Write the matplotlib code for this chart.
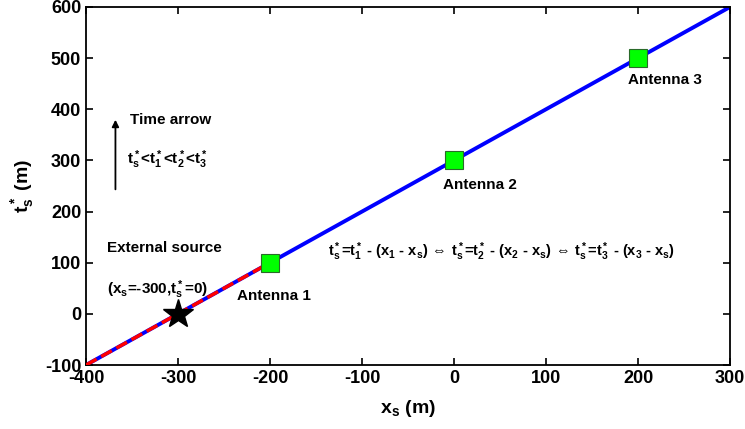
import matplotlib
matplotlib.use("Agg")
import matplotlib.pyplot as plt

plt.rcParams["font.family"] = "Liberation Sans"
plt.rcParams["font.weight"] = "bold"
plt.rcParams["axes.unicode_minus"] = False
plt.rcParams["mathtext.fontset"] = "custom"
plt.rcParams["mathtext.rm"] = "Liberation Sans:bold"
plt.rcParams["mathtext.bf"] = "Liberation Sans:bold"
plt.rcParams["mathtext.it"] = "Liberation Sans:bold"
plt.rcParams["mathtext.default"] = "bf"

# light cone line and source path
cone_x = [-400, 300]
cone_t = [-100, 600]
src_x = [-400, -200]
src_t = [-100, 100]

# antennas
ant_x = [-200, 0, 200]
ant_t = [100, 300, 500]
ant_names = ["Antenna 1", "Antenna 2", "Antenna 3"]
ant_label_pos = [(-236, 34), (-12, 252), (189, 457)]

source_x, source_t = -300, 0

fig = plt.figure(figsize=(7.45, 4.29), dpi=100)
ax = fig.add_axes([86 / 745, 1 - 365 / 429, (730 - 86) / 745, (365 - 7) / 429])

ax.plot(cone_x, cone_t, color="blue", lw=2.8, zorder=2)
ax.plot(src_x, src_t, color="red", lw=2.5, ls=(0, (3.5, 1.5)), zorder=3)
ax.plot(ant_x, ant_t, ls="none", marker="s", ms=13, mfc="#00ff00",
        mec="#2a6a2a", mew=0.8, zorder=4)
ax.plot([source_x], [source_t], ls="none", marker="*", ms=22, color="black", zorder=5)

for name, (tx, ty) in zip(ant_names, ant_label_pos):
    ax.text(tx, ty, name, fontsize=11, fontweight="bold", ha="left", va="center")

ax.annotate("", xy=(-368, 385), xytext=(-368, 238),
            arrowprops=dict(arrowstyle="-|>", color="black", lw=1.3, mutation_scale=10))
ax.text(-352, 380, "Time arrow", fontsize=11, fontweight="bold", va="center")
ax.text(-355, 302, r"$t^*_s$<$t^*_1$<$t^*_2$<$t^*_3$", fontsize=11, va="center")
ax.text(-377, 128, "External source", fontsize=11, fontweight="bold", va="center")
ax.text(-377, 48, r"(x$_s$=-300,t$^*_s$=0)", fontsize=11, va="center")
ax.text(-137, 122,
        r"$t^*_s$=$t^*_1$ - (x$_1$ - x$_s$)$\,\Leftrightarrow\,$$t^*_s$=$t^*_2$ - (x$_2$ - x$_s$)"
        r"$\,\Leftrightarrow\,$$t^*_s$=$t^*_3$ - (x$_3$ - x$_s$)",
        fontsize=10.5, va="center")

ax.set_xlim(-400, 300)
ax.set_ylim(-100, 600)
ax.set_xticks(range(-400, 301, 100))
ax.set_yticks(range(-100, 601, 100))
ax.tick_params(direction="in", top=True, right=True, labelsize=13, length=5, width=1.2)
for lbl in ax.get_xticklabels() + ax.get_yticklabels():
    lbl.set_fontweight("bold")
for sp in ax.spines.values():
    sp.set_linewidth(1.3)

ax.set_xlabel(r"x$_s$ (m)", fontsize=14, fontweight="bold", labelpad=8)
ax.set_ylabel(r"t$^*_s$ (m)", fontsize=14, fontweight="bold", labelpad=6)

fig.savefig("out.png", dpi=100)
